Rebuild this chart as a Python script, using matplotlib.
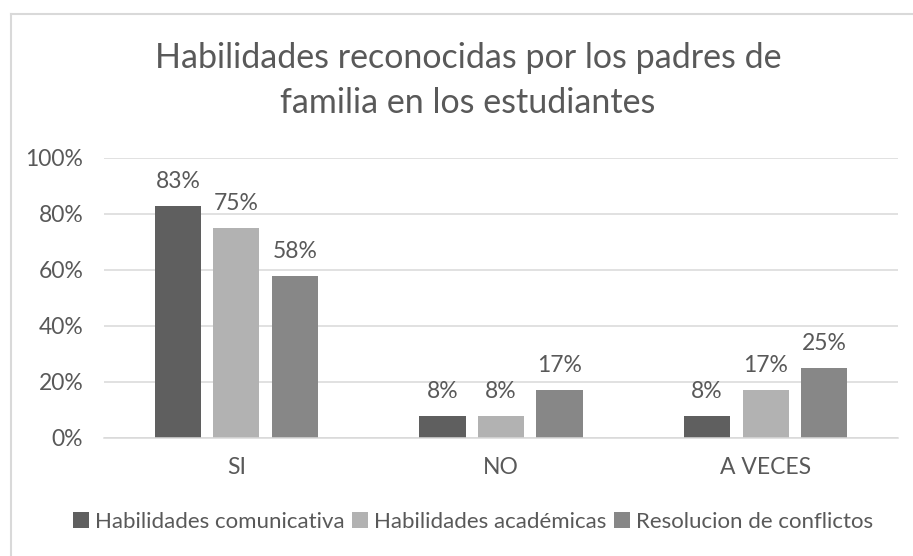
import matplotlib.pyplot as plt
import numpy as np
from matplotlib.lines import Line2D

plt.rcParams['font.family'] = ['Lato', 'DejaVu Sans']

categorias = ['SI', 'NO', 'A VECES']
series = ['Habilidades comunicativa', 'Habilidades académicas', 'Resolucion de conflictos']
comunicativa = [83, 8, 8]
academicas = [75, 8, 17]
conflictos = [58, 17, 25]
colores = ['#5f5f5f', '#b2b2b2', '#878787']
titulo = ['Habilidades reconocidas por los padres de', 'familia en los estudiantes']
yticks = [0, 20, 40, 60, 80, 100]

TEXTO = '#595959'
GRIS = '#d9d9d9'

fig = plt.figure(figsize=(9.13, 5.56), dpi=100)
ax = fig.add_axes([104 / 913, 1 - 438 / 556, 794 / 913, 280 / 556])

x = np.arange(len(categorias))
ancho = 0.174
paso = 0.221
datos = [comunicativa, academicas, conflictos]
for i, (nombre, valores) in enumerate(zip(series, datos)):
    barras = ax.bar(x + (i - 1) * paso, valores, ancho, color=colores[i],
                    label=nombre, zorder=3)
    for b, v in zip(barras, valores):
        ax.annotate('{}%'.format(v), (b.get_x() + b.get_width() / 2, v),
                    xytext=(0, 13), textcoords='offset points',
                    ha='center', va='baseline', fontsize=16.5, color=TEXTO)

ax.set_xlim(-0.5, 2.5)
ax.set_ylim(0, 100)
ax.set_xticks(x)
ax.set_xticklabels(categorias)
ax.set_yticks(yticks)
ax.set_yticklabels(['{}%'.format(t) for t in yticks])
ax.tick_params(axis='both', length=0, labelsize=16.5, labelcolor=TEXTO)
ax.tick_params(axis='y', pad=15)
ax.tick_params(axis='x', pad=14)
ax.grid(axis='y', color=GRIS, linewidth=1.1, zorder=0)
for lado in ['top', 'right', 'left']:
    ax.spines[lado].set_visible(False)
ax.spines['bottom'].set_color(GRIS)
ax.spines['bottom'].set_linewidth(1.1)
ax.spines['bottom'].set_zorder(4)

# titulo en dos lineas
fig.text(468 / 913, 1 - 68 / 556, titulo[0], ha='center', va='baseline',
         fontsize=24.5, color=TEXTO)
fig.text(468 / 913, 1 - 113 / 556, titulo[1], ha='center', va='baseline',
         fontsize=24.5, color=TEXTO)

fig.legend(loc='center', bbox_to_anchor=(473 / 913, 1 - 522 / 556), ncol=3,
           frameon=False, handlelength=0.7, handleheight=0.7,
           handletextpad=0.27, columnspacing=0.36, fontsize=16,
           labelcolor=TEXTO, borderaxespad=0)

# borde del grafico
fig.add_artist(Line2D([11 / 913, 11 / 913], [0, 1 - 14 / 556], color=GRIS, lw=1.5))
fig.add_artist(Line2D([11 / 913, 1], [1 - 14 / 556, 1 - 14 / 556], color=GRIS, lw=1.5))

fig.savefig('out.png', dpi=100)
